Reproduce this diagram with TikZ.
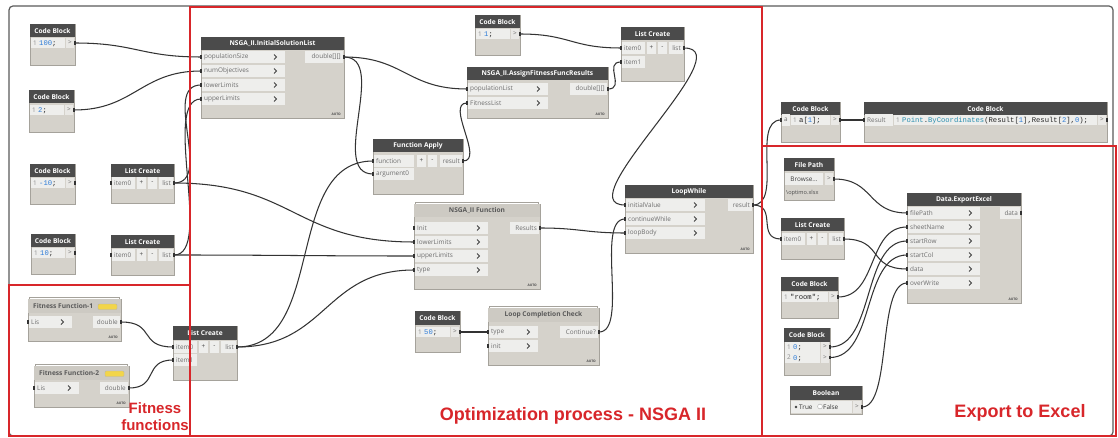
\documentclass[tikz,border=0pt]{standalone}
\usepackage{fontspec}
\setmainfont{Open Sans}
\newfontfamily\labfont{Liberation Sans}
\newfontfamily\monofont{Liberation Mono}

\definecolor{headcol}{HTML}{4B4B4B}
\definecolor{lheadcol}{HTML}{CDCAC3}
\definecolor{bodycol}{HTML}{D5D2CB}
\definecolor{rowcol}{HTML}{EEEEEC}
\definecolor{edgecol}{HTML}{A5A29B}
\definecolor{porttext}{HTML}{6E6E6E}
\definecolor{wirecol}{HTML}{333333}
\definecolor{codeblue}{HTML}{2F7DD8}
\definecolor{codeteal}{HTML}{2A8FB0}
\definecolor{linenum}{HTML}{8C8C8C}
\definecolor{framered}{HTML}{D8262A}
\definecolor{canvasline}{HTML}{5A5A5A}
\definecolor{badge}{HTML}{F2D54A}

\pgfdeclarelayer{wires}
\pgfsetlayers{wires,main}

\tikzset{
  dbody/.style={draw=edgecol, fill=bodycol, line width=0.5pt, inner sep=0pt, outer sep=0pt, anchor=north west},
  dhead/.style={fill=headcol, text=white, font=\fontsize{6.6}{7}\selectfont\bfseries, inner sep=0pt, outer sep=0pt, anchor=north west, minimum height=13.5pt},
  lhead/.style={dhead, fill=lheadcol, text=black!65},
  plabel/.style={font=\fontsize{6.4}{7}\selectfont, text=porttext, inner sep=0pt},
  codetext/.style={font=\monofont\fontsize{7.2}{8}\selectfont, text=black!85, inner sep=0pt},
  pmark/.style={fill=wirecol, minimum width=2.6pt, minimum height=3.6pt, inner sep=0pt, outer sep=0pt},
  wire/.style={draw=wirecol, line width=1.05pt},
  chev/.style={draw=black!75, line width=0.9pt},
  autotag/.style={font=\fontsize{3.3}{4}\selectfont\bfseries, text=black!70, inner sep=0pt, anchor=south east},
  region/.style={draw=framered, line width=2.6pt},
  grouplabel/.style={font=\labfont\bfseries\fontsize{18}{20}\selectfont, text=framered, inner sep=0pt, anchor=base},
}

% node frame with dark header: name, x1, y1, x2, y2, title
\newcommand\dnode[6]{%
  \node[dbody, minimum width={#4-#2}, minimum height={#5-#3}] (#1) at (#2,#3) {};
  \node[dhead, minimum width={#4-#2}] (#1-title) at (#2,#3) {#6};}
% custom node with light header and stacked edge
\newcommand\cnode[6]{%
  \draw[edgecol, line width=0.6pt] (#2+1.5,#3+3) -- (#2+1.5,#3-2) -- (#4-1.5,#3-2) -- (#4-1.5,#3+3);
  \node[dbody, minimum width={#4-#2}, minimum height={#5-#3}] (#1) at (#2,#3) {};
  \node[lhead, minimum width={#4-#2}] (#1-title) at (#2,#3) {#6};}
% input row with chevron: name, x1, x2, y, label
\newcommand\inrow[5]{%
  \fill[rowcol] (#2+1,#4-6) rectangle (#3,#4+6);
  \node[plabel, anchor=west] at (#2+3,#4) {#5};
  \draw[chev] (#3-11,#4-2.5) -- (#3-8.5,#4) -- (#3-11,#4+2.5);
  \node[pmark] (#1) at (#2,#4) {};}
% input row without chevron
\newcommand\inplain[5]{%
  \fill[rowcol] (#2+1,#4-6) rectangle (#3,#4+6);
  \node[plabel, anchor=west] at (#2+3,#4) {#5};
  \node[pmark] (#1) at (#2,#4) {};}
% output row: name, x1, x2, y, label
\newcommand\outrow[5]{%
  \fill[rowcol] (#2,#4-6) rectangle (#3-1,#4+6);
  \node[plabel, anchor=east] at (#3-3,#4) {#5};
  \node[pmark] (#1) at (#3,#4) {};}
% small button: x1, x2, y, text
\newcommand\btn[4]{%
  \fill[rowcol] (#1,#3-6) rectangle (#2,#3+6);
  \node[plabel, text=black!70] at ({(#1+#2)/2},#3) {#4};}
% code line: name, x1, x2, y, line number, code
\newcommand\coderow[6]{%
  \fill[rowcol] (#2+1,#4-5.2) rectangle (#3-10,#4+5.2);
  \fill[rowcol!80!bodycol] (#3-9,#4-5.2) rectangle (#3-1,#4+5.2);
  \node[plabel, text=linenum, anchor=base west] at (#2+3,#4+2.3) {#5};
  \node[codetext, anchor=base west] at (#2+9,#4+2.5) {#6};
  \node[plabel] at (#3-5,#4) {>};
  \node[pmark] (#1) at (#3,#4) {};}
\newcommand\autolabel[2]{\node[autotag] at (#1-3,#2-2) {AUTO};}
\newcommand\cnum[1]{\textcolor{codeblue}{#1}}
\newcommand\wire[3]{\draw[wire] (#1.center) .. controls +(#3,0) and +(-#3,0) .. (#2.center);}

\begin{document}
\begin{tikzpicture}[x=1pt, y=-1pt]
\useasboundingbox (0,0) rectangle (1118,438);

% ---------- inputs on the left ----------
\dnode{cb100}{30}{24}{75}{65}{Code Block}
\coderow{cb100-out}{30}{75}{43}{1}{\cnum{100};}

\dnode{cb2}{29}{90}{74}{132}{Code Block}
\coderow{cb2-out}{29}{74}{110}{1}{\cnum{2};}

\dnode{cbm10}{30}{164}{75}{204}{Code Block}
\coderow{cbm10-out}{30}{75}{183}{1}{\cnum{-10};}

\dnode{lclow}{111}{164}{174}{203}{List Create}
\inplain{lclow-in0}{111}{135}{183}{item0}
\btn{137}{146}{183}{+}
\btn{148}{157}{183}{-}
\outrow{lclow-out}{159}{174}{183}{list}

\dnode{cb10}{31}{234}{75}{274}{Code Block}
\coderow{cb10-out}{31}{75}{253}{1}{\cnum{10};}

\dnode{lcup}{111}{235}{174}{275}{List Create}
\inplain{lcup-in0}{111}{135}{255}{item0}
\btn{137}{146}{255}{+}
\btn{148}{157}{255}{-}
\outrow{lcup-out}{159}{174}{255}{list}

% ---------- fitness functions ----------
\cnode{ff1}{28}{299}{121}{341}{}
\node[font=\fontsize{6.6}{7}\selectfont\bfseries, text=black!65, inner sep=0pt, anchor=west] (ff1-name) at (33,306) {Fitness Function-1};
\fill[badge, draw=black!30, line width=0.3pt, rounded corners=0.8pt] (98,304) rectangle (117,309.5);
\inrow{ff1-in}{28}{72}{322}{Lis}
\outrow{ff1-out}{93}{121}{322}{double}
\autolabel{121}{341}

\cnode{ff2}{34}{366}{129}{407}{}
\node[font=\fontsize{6.6}{7}\selectfont\bfseries, text=black!65, inner sep=0pt, anchor=west] (ff2-name) at (39,373) {Fitness Function-2};
\fill[badge, draw=black!30, line width=0.3pt, rounded corners=0.8pt] (105,371) rectangle (124,376.5);
\inrow{ff2-in}{34}{79}{388}{Lis}
\outrow{ff2-out}{100}{129}{388}{double}
\autolabel{129}{407}

\dnode{lcfit}{173}{326}{237}{380}{List Create}
\inplain{lcfit-in0}{173}{197}{347}{item0}
\btn{199}{208}{347}{+}
\btn{210}{219}{347}{-}
\outrow{lcfit-out}{221}{237}{347}{list}
\inplain{lcfit-in1}{173}{197}{360}{item1}

% ---------- optimisation ----------
\dnode{isl}{201}{37}{344}{118}{NSGA\_II.InitialSolutionList}
\inrow{isl-pop}{201}{285}{57}{populationSize}
\inrow{isl-obj}{201}{285}{71}{numObjectives}
\inrow{isl-low}{201}{285}{85}{lowerLimits}
\inrow{isl-up}{201}{285}{99}{upperLimits}
\outrow{isl-out}{305}{344}{57}{double[][]}
\autolabel{344}{118}

\dnode{cb1}{475}{15}{520}{55}{Code Block}
\coderow{cb1-out}{475}{520}{34}{1}{\cnum{1};}

\dnode{lctop}{621}{27}{684}{81}{List Create}
\inplain{lctop-in0}{621}{645}{48}{item0}
\btn{647}{656}{48}{+}
\btn{658}{667}{48}{-}
\outrow{lctop-out}{669}{684}{48}{list}
\inplain{lctop-in1}{621}{645}{62}{item1}

\dnode{asg}{467}{67}{608}{118}{NSGA\_II.AssignFitnessFuncResults}
\inrow{asg-pop}{467}{548}{89}{populationList}
\inrow{asg-fit}{467}{548}{103}{FitnessList}
\outrow{asg-out}{570}{608}{89}{double[][]}
\autolabel{608}{118}

\dnode{fa}{373}{139}{463}{194}{Function Apply}
\inplain{fa-fn}{373}{414}{161}{function}
\btn{417}{426}{161}{+}
\btn{428}{437}{161}{-}
\outrow{fa-out}{440}{463}{161}{result}
\inplain{fa-arg}{373}{414}{174}{argument0}

\cnode{nsf}{414}{204}{540}{289}{NSGA\_II Function}
\inrow{nsf-init}{414}{488}{228}{Init}
\inrow{nsf-low}{414}{488}{242}{lowerLimits}
\inrow{nsf-up}{414}{488}{256}{upperLimits}
\inrow{nsf-type}{414}{488}{270}{type}
\outrow{nsf-out}{510}{540}{228}{Results}
\autolabel{540}{289}

\dnode{lw}{625}{185}{753}{253}{LoopWhile}
\inrow{lw-init}{625}{705}{205}{initialValue}
\inrow{lw-cont}{625}{705}{219}{continueWhile}
\inrow{lw-body}{625}{705}{233}{loopBody}
\outrow{lw-out}{728}{753}{205}{result}
\autolabel{753}{253}

\dnode{cb50}{415}{311}{460}{352}{Code Block}
\coderow{cb50-out}{415}{460}{332}{1}{\cnum{50};}

\cnode{lcc}{488}{308}{599}{365}{Loop Completion Check}
\inrow{lcc-type}{488}{538}{332}{type}
\inrow{lcc-init}{488}{538}{346}{init}
\outrow{lcc-out}{560}{599}{332}{Continue?}
\autolabel{599}{365}

% ---------- export ----------
\dnode{cba}{781}{102}{840}{142}{Code Block}
\inplain{cba-in}{781}{790}{120}{a}
\coderow{cba-out}{790}{840}{120}{1}{a[\cnum{1}];}

\dnode{cbpt}{864}{102}{1107}{142}{Code Block}
\inplain{cbpt-in}{864}{893}{120}{Result}
\coderow{cbpt-out}{893}{1107}{120}{1}{\textcolor{codeteal}{Point}.\textcolor{codeteal}{ByCoordinates}(Result[\cnum{1}],Result[\cnum{2}],\cnum{0});}

\dnode{fp}{784}{158}{834}{200}{File Path}
\fill[rowcol] (785,173) rectangle (823,185);
\node[plabel, text=black!75] (fp-browse) at (804,179) {Browse...};
\fill[rowcol!80!bodycol] (825,173) rectangle (833,185);
\node[plabel] (fp-arrow) at (829,179) {>};
\node[pmark] (fp-out) at (834,179) {};
\node[plabel, font=\fontsize{5.6}{6}\selectfont, text=black!70, anchor=west] (fp-file) at (786,193) {\textbackslash optimo.xlsx};

\dnode{lcr}{781}{218}{844}{259}{List Create}
\inplain{lcr-in0}{781}{805}{239}{item0}
\btn{807}{816}{239}{+}
\btn{818}{827}{239}{-}
\outrow{lcr-out}{829}{844}{239}{list}

\dnode{ee}{907}{193}{1021}{303}{Data.ExportExcel}
\inrow{ee-file}{907}{980}{213}{filePath}
\inrow{ee-sheet}{907}{980}{227}{sheetName}
\inrow{ee-row}{907}{980}{241}{startRow}
\inrow{ee-col}{907}{980}{255}{startCol}
\inrow{ee-data}{907}{980}{269}{data}
\inrow{ee-over}{907}{980}{283}{overWrite}
\outrow{ee-out}{1000}{1021}{213}{data}
\autolabel{1021}{303}

\dnode{cbroom}{781}{277}{838}{318}{Code Block}
\coderow{cbroom-out}{781}{838}{297}{1}{"room";}

\dnode{cb00}{784}{328}{830}{375}{Code Block}
\coderow{cb00-out1}{784}{830}{347}{1}{\cnum{0};}
\coderow{cb00-out2}{784}{830}{357.5}{2}{\cnum{0};}

\dnode{bool}{790}{386}{862}{414}{Boolean}
\fill[rowcol] (791,401) rectangle (852,413);
\fill[black!75] (796,407) circle (1.3);
\node[plabel, text=black!80, anchor=west] (bool-true) at (799,407) {True};
\filldraw[fill=white, draw=black!35, line width=0.4pt] (820,406.5) circle (2.4);
\node[plabel, text=black!80, anchor=west] (bool-false) at (823,407) {False};
\fill[rowcol!80!bodycol] (853,401) rectangle (861,413);
\node[plabel] (bool-arrow) at (857,407) {>};
\node[pmark] (bool-out) at (862,407) {};

% ---------- background, canvas frame and wires (behind the nodes) ----------
\begin{pgfonlayer}{wires}
\fill[white] (0,0) rectangle (1118,438);
\draw[canvasline, line width=1.2pt, rounded corners=4pt] (9,6) rectangle (1113,436);
\wire{cb100-out}{isl-pop}{60}
\wire{cb2-out}{isl-obj}{60}
\wire{lclow-out}{isl-low}{40}
\wire{lcup-out}{isl-up}{40}
\wire{lclow-out}{nsf-low}{120}
\wire{lcup-out}{nsf-up}{100}
\wire{ff1-out}{lcfit-in0}{35}
\wire{ff2-out}{lcfit-in1}{30}
\wire{lcfit-out}{fa-fn}{90}
\wire{lcfit-out}{nsf-type}{90}
\wire{isl-out}{asg-pop}{60}
\wire{isl-out}{fa-arg}{45}
\wire{fa-out}{asg-fit}{22}
\wire{cb1-out}{lctop-in0}{50}
\wire{asg-out}{lctop-in1}{18}
\wire{lctop-out}{lw-init}{60}
\wire{nsf-out}{lw-body}{40}
\wire{lcc-out}{lw-cont}{30}
\wire{cb50-out}{lcc-type}{14}
\wire{lw-out}{cba-in}{30}
\wire{lw-out}{lcr-in0}{25}
\wire{cba-out}{cbpt-in}{12}
\wire{fp-out}{ee-file}{40}
\wire{lcr-out}{ee-data}{40}
\wire{cbroom-out}{ee-sheet}{40}
\wire{cb00-out1}{ee-row}{45}
\wire{cb00-out2}{ee-col}{45}
\wire{bool-out}{ee-over}{30}
\end{pgfonlayer}

% ---------- group frames and captions ----------
\draw[region] (190,7) rectangle (762,436);
\draw[region] (9,285) rectangle (190,436);
\draw[region] (762,146) rectangle (1116,436);

\node[grouplabel] (opt-label) at (573,420.5) {Optimization process - NSGA II};
\node[grouplabel] (exp-label) at (1020,417) {Export to Excel};
\node[grouplabel, font=\labfont\bfseries\fontsize{15}{17}\selectfont] (fit-label1) at (155,413) {Fitness};
\node[grouplabel, font=\labfont\bfseries\fontsize{15}{17}\selectfont] (fit-label2) at (155,430) {functions};
\end{tikzpicture}
\end{document}
